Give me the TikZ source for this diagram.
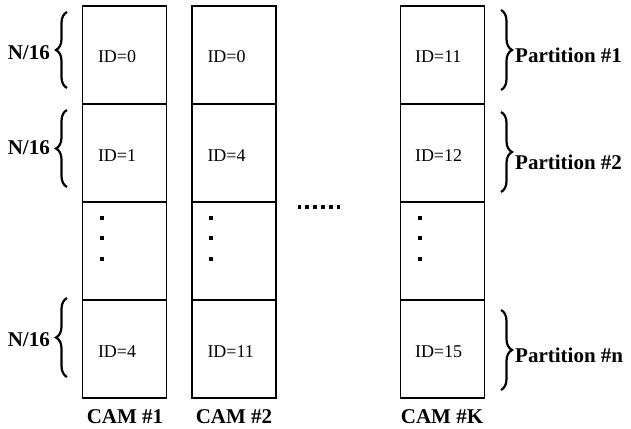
\documentclass[tikz,border=0pt]{standalone}
\usepackage{fontspec}
\setmainfont{Liberation Serif}
\usetikzlibrary{decorations.pathreplacing,calc}
\begin{document}
\begin{tikzpicture}[x=1pt,y=-1pt,
  cell/.style={draw, line width=1.4pt, minimum width=84pt, minimum height=98pt, inner sep=0pt},
  idtext/.style={anchor=west, inner sep=0pt, font=\fontsize{18}{20}\selectfont},
  lbl/.style={inner sep=0pt, font=\bfseries\fontsize{21}{23}\selectfont},
  brc/.style={decorate, decoration={brace, amplitude=11pt}, line width=2.2pt},
  dotbox/.style={fill=black, rectangle, minimum size=3.8pt, inner sep=0pt}
]
\useasboundingbox (0,0) rectangle (631,428);
% columns
\foreach \c/\x in {a/124.5, b/234, k/442.5}{
  \foreach \r/\y in {1/55, 2/153, 3/251, 4/349}{
    \node[cell] (\c\r) at (\x,\y) {};
  }
}
% ID texts
\node[idtext] (ta1) at ($(a1.west)+(16,2)$) {ID=0};
\node[idtext] (ta2) at ($(a2.west)+(16,3)$) {ID=1};
\node[idtext] (ta4) at ($(a4.west)+(16,3)$) {ID=4};
\node[idtext] (tb1) at ($(b1.west)+(16,2)$) {ID=0};
\node[idtext] (tb2) at ($(b2.west)+(16,3)$) {ID=4};
\node[idtext] (tb4) at ($(b4.west)+(16,3)$) {ID=11};
\node[idtext] (tk1) at ($(k1.west)+(15,2)$) {ID=11};
\node[idtext] (tk2) at ($(k2.west)+(15,3)$) {ID=12};
\node[idtext] (tk4) at ($(k4.west)+(15,3)$) {ID=15};
% vertical dots
\foreach \c in {a,b,k}{
  \foreach \i/\dy in {1/-33, 2/-13, 3/8}{
    \node[dotbox] (v\c\i) at ($(\c3.west)+(20,\dy)$) {};
  }
}
% horizontal dots
\foreach \i in {0,...,5}{
  \node[dotbox] (h\i) at ({299.5+7.8*\i},207) {};
}
% bottom labels
\node[lbl] (cam1) at (125,417) {CAM \#1};
\node[lbl] (cam2) at (234,417) {CAM \#2};
\node[lbl] (camk) at (442,417) {CAM \#K};
% left braces
\draw[brc] (67,88) -- (67,12);
\draw[brc] (67,187) -- (67,110);
\draw[brc] (67,377) -- (67,298);
\node[lbl, anchor=east] (n1) at (50,53) {N/16};
\node[lbl, anchor=east] (n2) at (50,148) {N/16};
\node[lbl, anchor=east] (n3) at (50,340) {N/16};
% right braces
\draw[brc] (501,10) -- (501,90);
\draw[brc] (501,112) -- (501,192);
\draw[brc] (501,310) -- (501,390);
\node[lbl, anchor=west] (p1) at (515,55) {Partition \#1};
\node[lbl, anchor=west] (p2) at (515,162) {Partition \#2};
\node[lbl, anchor=west] (pn) at (515,355) {Partition \#n};
\end{tikzpicture}
\end{document}
